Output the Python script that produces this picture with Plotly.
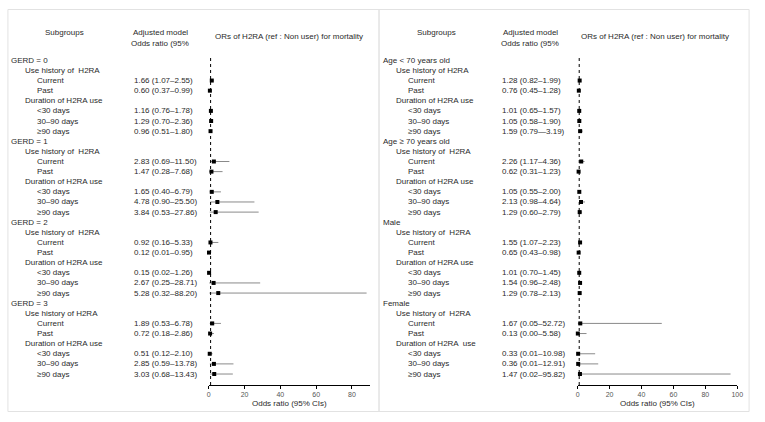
import plotly.graph_objects as go

W, H = 765, 422

# ---------------- data ----------------
left_groups = ["GERD = 0", "GERD = 1", "GERD = 2", "GERD = 3"]
left_history_labels = ["Use history of  H2RA", "Use history of  H2RA", "Use history of  H2RA", "Use history of H2RA"]
left_duration_labels = ["Duration of H2RA use"] * 4
left_or = [1.66, 0.60, 1.16, 1.29, 0.96,
           2.83, 1.47, 1.65, 4.78, 3.84,
           0.92, 0.12, 0.15, 2.67, 5.28,
           1.89, 0.72, 0.51, 2.85, 3.03]
left_lo = [1.07, 0.37, 0.76, 0.70, 0.51,
           0.69, 0.28, 0.40, 0.90, 0.53,
           0.16, 0.01, 0.02, 0.25, 0.32,
           0.53, 0.18, 0.12, 0.59, 0.68]
left_hi = [2.55, 0.99, 1.78, 2.36, 1.80,
           11.50, 7.68, 6.79, 25.50, 27.86,
           5.33, 0.95, 1.26, 28.71, 88.20,
           6.78, 2.86, 2.10, 13.78, 13.43]

right_groups = ["Age < 70 years old", "Age \u2265 70 years old", "Male", "Female"]
right_history_labels = ["Use history of H2RA", "Use history of  H2RA", "Use history of  H2RA", "Use history of  H2RA"]
right_duration_labels = ["Duration of H2RA use", "Duration of H2RA use", "Duration of H2RA use", "Duration of H2RA  use"]
right_or = [1.28, 0.76, 1.01, 1.05, 1.59,
            2.26, 0.62, 1.05, 2.13, 1.29,
            1.55, 0.65, 1.01, 1.54, 1.29,
            1.67, 0.13, 0.33, 0.36, 1.47]
right_lo = [0.82, 0.45, 0.65, 0.58, 0.79,
            1.17, 0.31, 0.55, 0.98, 0.60,
            1.07, 0.43, 0.70, 0.96, 0.78,
            0.05, 0.00, 0.01, 0.01, 0.02]
right_hi = [1.99, 1.28, 1.57, 1.90, 3.19,
            4.36, 1.23, 2.00, 4.64, 2.79,
            2.23, 0.98, 1.45, 2.48, 2.13,
            52.72, 5.58, 10.98, 12.91, 95.82]

item_labels = ["Current", "Past", "&lt;30 days", "30\u201390 days", "\u226590 days"]
left_ticks = [0, 20, 40, 60, 80]
right_ticks = [0, 20, 40, 60, 80, 100]

# ---------------- layout helpers ----------------
ROW0, STEP = 60.3, 10.12
item_offsets = [2, 3, 5, 6, 7]


def px(x):
    return x / W


def py(y):
    return 1 - y / H


rows = [g * 8 + off for g in range(4) for off in item_offsets]
FONT = "Liberation Sans, Arial, sans-serif"
TXT = "#2a2a2a"
fig = go.Figure()

# CI + point traces
for xa, ors, los, his in [("x", left_or, left_lo, left_hi), ("x2", right_or, right_lo, right_hi)]:
    fig.add_trace(go.Scatter(
        x=ors, y=rows, xaxis=xa, yaxis="y", mode="markers",
        marker=dict(symbol="square", size=4, color="black"),
        error_x=dict(type="data", symmetric=False,
                     array=[h - o for o, h in zip(ors, his)],
                     arrayminus=[o - l for o, l in zip(ors, los)],
                     color="#8a8a8a", thickness=1, width=0),
        showlegend=False, hoverinfo="skip", cliponaxis=False))

ann = []


def add_text(x, y, text, yref="y", xanchor="left", size=8, color=TXT):
    ann.append(dict(x=px(x), y=y, xref="paper", yref=yref, text=text, showarrow=False,
                    xanchor=xanchor, yanchor="middle", align=xanchor if xanchor != "center" else "center",
                    font=dict(size=size, color=color, family=FONT)))


def panel_text(groups, hist, dur, ors, los, his, xg, xs, xi, xv):
    k = 0
    for g in range(4):
        base = g * 8
        add_text(xg, base, groups[g])
        add_text(xs, base + 1, hist[g])
        add_text(xs, base + 4, dur[g])
        for j, off in enumerate(item_offsets):
            add_text(xi, base + off, item_labels[j])
            sep = "\u2014" if (groups[g].startswith("Age <") and j == 4) else "\u2013"
            add_text(xv, base + off, f"{ors[k]:.2f} ({los[k]:.2f}{sep}{his[k]:.2f})")
            k += 1


panel_text(left_groups, left_history_labels, left_duration_labels, left_or, left_lo, left_hi, 7, 21, 33, 131)
panel_text(right_groups, right_history_labels, right_duration_labels, right_or, right_lo, right_hi, 383, 396, 408, 503)

# headers
for cx_sub, cx_adj, cx_or in [(63, 160, 290), (439, 534, 660)]:
    add_text(cx_sub, py(32.5), "Subgroups", yref="paper", xanchor="center")
    add_text(cx_adj, py(33), "Adjusted model", yref="paper", xanchor="center")
    add_text(cx_adj, py(43.5), "Odds ratio (95%", yref="paper", xanchor="center")
    add_text(cx_or, py(37), "ORs of H2RA (ref : Non user) for mortality", yref="paper", xanchor="center")

# axis titles
add_text((209 + 371.7) / 2, py(403), "Odds ratio (95% CIs)", yref="paper", xanchor="center")
add_text((581.7 + 743) / 2, py(403), "Odds ratio (95% CIs)", yref="paper", xanchor="center")

shapes = []
# panel boxes
for x0, x1 in [(6, 381), (381, 755)]:
    shapes.append(dict(type="rect", xref="paper", yref="paper", x0=px(x0), x1=px(x1), y0=py(411.5), y1=py(9.5),
                       line=dict(color="#e2e2e2", width=1), fillcolor="rgba(0,0,0,0)", layer="below"))
# reference lines at OR = 1
y_top_row = (58 - ROW0) / STEP
y_bot_row = (385 - ROW0) / STEP
for xr in ["x", "x2"]:
    shapes.append(dict(type="line", xref=xr, yref="y", x0=1, x1=1, y0=y_top_row, y1=y_bot_row,
                       line=dict(color="black", width=1, dash="dot")))

axis_common = dict(showgrid=False, zeroline=False, showline=True, linecolor="black", linewidth=1,
                   ticks="outside", ticklen=3, tickcolor="black", tickwidth=1,
                   tickfont=dict(size=7, color="#555", family=FONT), anchor="y", fixedrange=True)

fig.update_layout(
    width=W, height=H, autosize=False,
    margin=dict(l=0, r=0, t=0, b=0),
    paper_bgcolor="white", plot_bgcolor="rgba(0,0,0,0)",
    xaxis=dict(domain=[px(209), px(371.7)], range=[0, 90], tickvals=left_ticks, **axis_common),
    xaxis2=dict(domain=[px(581.7), px(743)], range=[0, 100], tickvals=right_ticks, **axis_common),
    yaxis=dict(domain=[py(385), py(58)], range=[y_bot_row, y_top_row], visible=False, fixedrange=True),
    annotations=ann, shapes=shapes, showlegend=False,
)

fig.write_html("out.html", config={"displayModeBar": False},
               post_script="document.body.style.margin='0';document.body.style.overflow='hidden';")
